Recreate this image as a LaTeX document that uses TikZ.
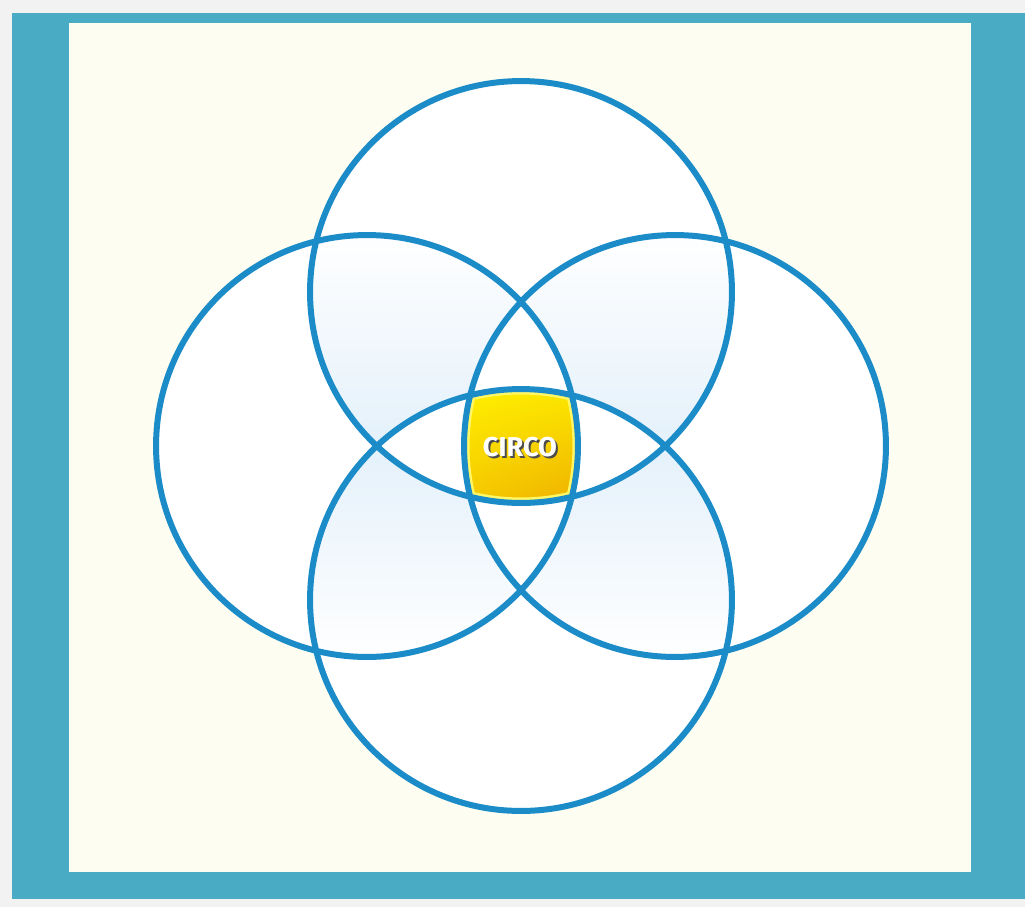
\documentclass[tikz,border=0pt]{standalone}
\usepackage{fontspec}
\setsansfont{Fira Sans}
\usepackage{tikz}
\usetikzlibrary{positioning,calc,shadings}
\definecolor{page}{HTML}{F2F2F2}
\definecolor{frame}{HTML}{4AABC4}
\definecolor{paper}{HTML}{FDFDF1}
\definecolor{ring}{HTML}{1B8CC8}
\definecolor{mist}{HTML}{E1EFFA}
\definecolor{sun}{HTML}{FFF200}
\definecolor{amber}{HTML}{EEAC00}
\def\vennr{4.22cm}

\begin{document}
\begin{tikzpicture}[x=0.02cm,y=-0.02cm,
  ring/.style={draw=ring,line width=0.12cm},
  label/.style={font=\sffamily\bfseries\fontsize{15.5}{18}\selectfont,inner sep=0pt}]
\useasboundingbox (0,0) rectangle (1025,907);
\fill[page] (0,0) rectangle (1025,907);
\fill[frame] (12,13) rectangle (1025,899);
\fill[paper] (69,23) rectangle (971,872);

\coordinate (top) at (521,292);
\coordinate (bottom) at (521,600);
\coordinate (left) at (367,446);
\coordinate (right) at (675,446);

\fill[white] (top) circle[radius=\vennr] (bottom) circle[radius=\vennr]
  (left) circle[radius=\vennr] (right) circle[radius=\vennr];

\begin{scope}
\clip (top) circle[radius=\vennr];
\clip (left) circle[radius=\vennr] (right) circle[radius=\vennr];
\shade[top color=white,bottom color=mist] (150,230) rectangle (890,470);
\end{scope}
\begin{scope}
\clip (bottom) circle[radius=\vennr];
\clip (left) circle[radius=\vennr] (right) circle[radius=\vennr];
\shade[top color=mist,bottom color=white] (150,420) rectangle (890,662);
\end{scope}

\foreach \a/\b/\c in {top/left/right,bottom/left/right,left/top/bottom,right/top/bottom}{
  \begin{scope}
  \clip (\a) circle[radius=\vennr];
  \clip (\b) circle[radius=\vennr];
  \fill[white] (\c) circle[radius=\vennr];
  \end{scope}
}

\begin{scope}
\clip (top) circle[radius=\vennr];
\clip (bottom) circle[radius=\vennr];
\clip (left) circle[radius=\vennr];
\clip (right) circle[radius=\vennr];
\shade[upper left=sun,upper right=sun!85!amber,lower left=sun!40!amber,lower right=amber]
  (455,385) rectangle (585,510);
\draw[line width=0.22cm,white!40!sun] (top) circle[radius=\vennr] (bottom) circle[radius=\vennr]
  (left) circle[radius=\vennr] (right) circle[radius=\vennr];
\end{scope}

\draw[ring] (top) circle[radius=\vennr] (bottom) circle[radius=\vennr]
  (left) circle[radius=\vennr] (right) circle[radius=\vennr];

\node[label,text=black!70] (circoshadow) at (522,449) {CIRCO};
\node[label,text=white] (circo) at (520,447) {CIRCO};
\end{tikzpicture}
\end{document}
